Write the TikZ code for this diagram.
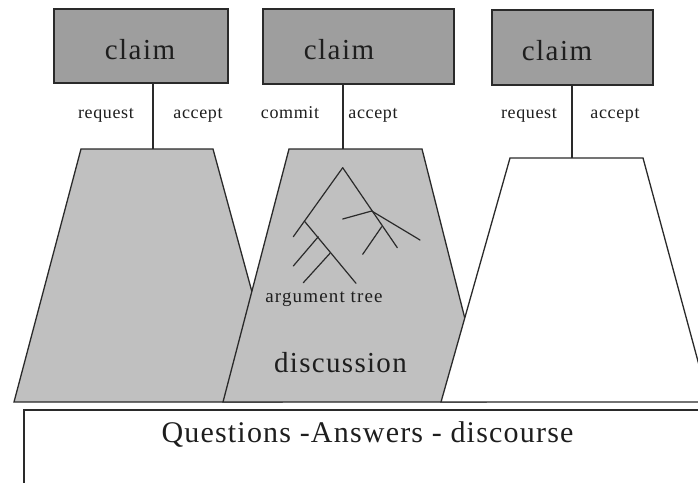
\documentclass[tikz,border=0pt]{standalone}
\usepackage{fontspec}
\setmainfont{Liberation Serif}
\newfontfamily\claimfont[LetterSpace=5]{Liberation Serif}
\newfontfamily\discfont[LetterSpace=4.5]{Liberation Serif}
\newfontfamily\qafont[LetterSpace=4]{Liberation Serif}
\newfontfamily\smallfont[LetterSpace=3.5]{Liberation Serif}
\newfontfamily\treefont[LetterSpace=6]{Liberation Serif}
\definecolor{linec}{HTML}{2A2A2A}
\definecolor{boxgray}{HTML}{9E9E9E}
\definecolor{trapgray}{HTML}{C0C0C0}
\definecolor{txtc}{HTML}{1E1E1E}
\tikzset{
  claimbox/.style={draw=linec, fill=boxgray, line width=1.4pt, inner sep=0pt},
  trapshape/.style={draw=linec, line width=1.3pt, line join=miter},
  lbl/.style={anchor=base, inner sep=0pt, text=txtc},
  conn/.style={draw=linec, line width=1.3pt},
  treeline/.style={draw=linec, line width=1.2pt, line cap=round},
  qabox/.style={draw=linec, fill=white, line width=1.3pt}
}
\begin{document}
\begin{tikzpicture}[x=1pt,y=-1pt]
\useasboundingbox (0,0) rectangle (698,482);
\clip (0,0) rectangle (698,482);
\fill[white] (0,0) rectangle (698,482);

% claim boxes
\node[claimbox, minimum width=174pt, minimum height=74pt] (b1) at (141,46) {};
\node[claimbox, minimum width=191pt, minimum height=75pt] (b2) at (358.5,46.5) {};
\node[claimbox, minimum width=161pt, minimum height=75pt] (b3) at (572.5,47.5) {};
\node[lbl] (b1t) at (140,59) {\claimfont\fontsize{29}{33}\selectfont claim};
\node[lbl] (b2t) at (339,59) {\claimfont\fontsize{29}{33}\selectfont claim};
\node[lbl] (b3t) at (557,60) {\claimfont\fontsize{29}{33}\selectfont claim};

% trapezoids
\draw[trapshape, fill=trapgray] (81,149) -- (213,149) -- (282,402) -- (14,402) -- cycle;
\draw[trapshape, fill=trapgray] (289,149) -- (422,149) -- (486,402) -- (223,402) -- cycle;
\draw[trapshape, fill=white] (510,158) -- (643,158) -- (709,402) -- (441,402) -- cycle;

% connectors
\coordinate (t1) at (153,149);
\coordinate (t2) at (343,149);
\coordinate (t3) at (572,158);
\draw[conn] (b1.south -| t1) -- (t1);
\draw[conn] (b2.south -| t2) -- (t2);
\draw[conn] (b3.south -| t3) -- (t3);

% connector labels
\node[lbl] (r1) at (106,118) {\smallfont\fontsize{18}{21}\selectfont request};
\node[lbl] (a1) at (198,118) {\smallfont\fontsize{18}{21}\selectfont accept};
\node[lbl] (c2) at (290,118) {\smallfont\fontsize{18}{21}\selectfont commit};
\node[lbl] (a2) at (373,118) {\smallfont\fontsize{18}{21}\selectfont accept};
\node[lbl] (r3) at (529,118) {\smallfont\fontsize{18}{21}\selectfont request};
\node[lbl] (a3) at (615,118) {\smallfont\fontsize{18}{21}\selectfont accept};

% argument tree
\coordinate (apex) at (342.7,167.7);
\coordinate (ln) at (304.3,221);
\coordinate (rn) at (371.7,211);
\draw[treeline] (apex) -- (293.3,236.7);
\draw[treeline] (ln) -- (356,283.3);
\draw[treeline] (318.3,236.7) -- (293.3,266);
\draw[treeline] (330,253.3) -- (303.3,282.7);
\draw[treeline] (apex) -- (397.3,247.7);
\draw[treeline] (rn) -- (342.7,219);
\draw[treeline] (rn) -- (420,240);
\draw[treeline] (381.7,226.7) -- (362.7,254.3);

\node[lbl] (tree) at (324,302) {\treefont\fontsize{19}{22}\selectfont argument tree};
\node[lbl] (disc) at (340.5,372) {\discfont\fontsize{29}{33}\selectfont discussion};

% bottom box
\draw[qabox] (24,410) rectangle (720,500);
\node[lbl] (qa) at (367.5,442) {\qafont\fontsize{30}{34}\selectfont Questions -Answers - discourse};
\end{tikzpicture}
\end{document}
